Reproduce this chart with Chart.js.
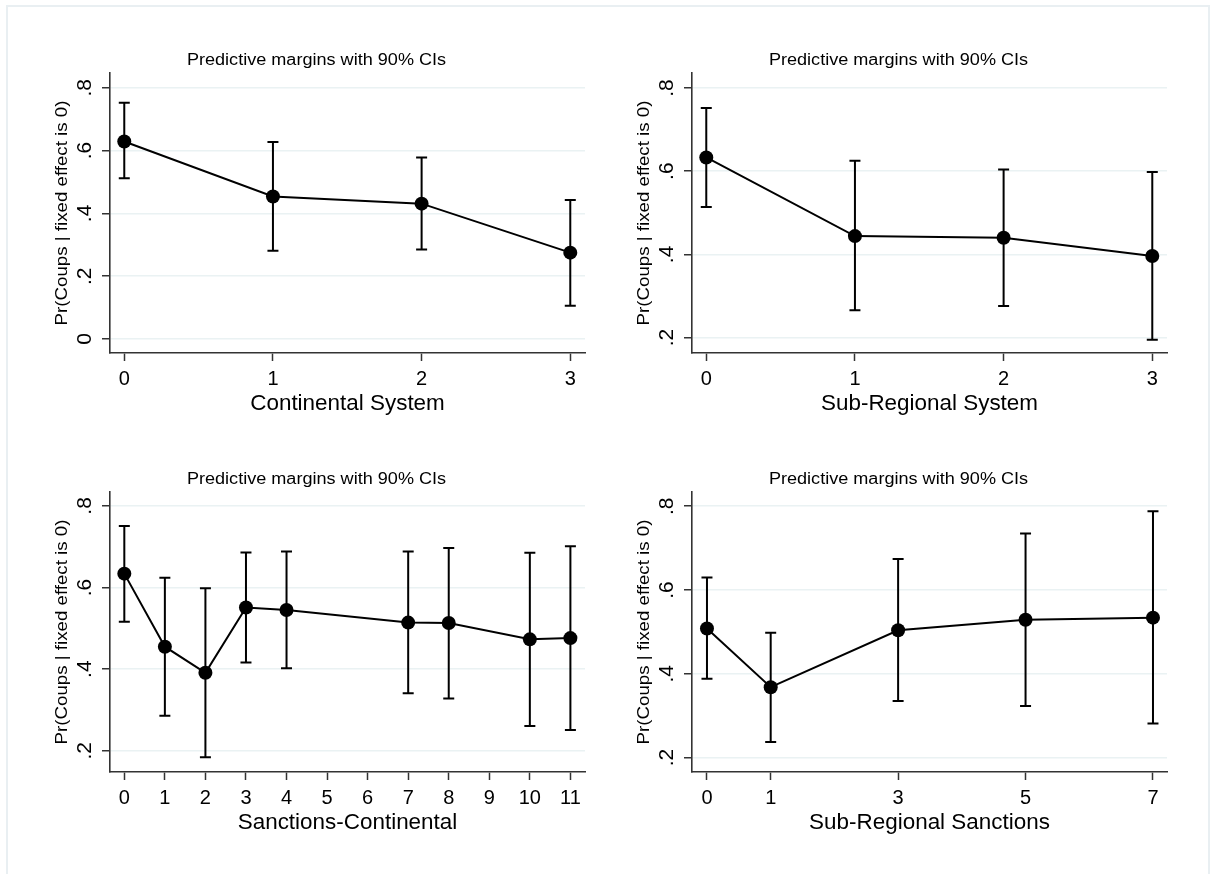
<!DOCTYPE html>
<html>
<head>
<meta charset="utf-8">
<script src="https://cdn.jsdelivr.net/npm/chart.js@4.4.1/dist/chart.umd.min.js"></script>
<style>
  html, body { margin: 0; padding: 0; background: #fff; }
  #page { position: relative; width: 1211px; height: 874px; overflow: hidden; background: #fff; }
  #frame { position: absolute; left: 6px; top: 5px; width: 1200px; height: 880px; border: 2px solid #e9eff2; }
  canvas { position: absolute; }
</style>
</head>
<body>
<div id="page">
  <div id="frame"></div>
  <canvas id="c1" width="596" height="419" style="left:0px;top:0px"></canvas>
  <canvas id="c2" width="596" height="419" style="left:582px;top:0px"></canvas>
  <canvas id="c3" width="596" height="419" style="left:0px;top:419px"></canvas>
  <canvas id="c4" width="596" height="419" style="left:582px;top:419px"></canvas>
</div>
<script>
    // Continental System
    const contX = [0, 1, 2, 3];
    const contMargin = [0.629, 0.454, 0.431, 0.275];
    const contLow = [0.512, 0.281, 0.285, 0.106];
    const contHigh = [0.752, 0.627, 0.578, 0.443];

    // Sub-Regional System
    const subX = [0, 1, 2, 3];
    const subMargin = [0.633, 0.444, 0.440, 0.396];
    const subLow = [0.514, 0.266, 0.276, 0.195];
    const subHigh = [0.752, 0.625, 0.604, 0.598];

    // Sanctions-Continental
    const sancContX = [0, 1, 2, 3, 4, 7, 8, 10, 11];
    const sancContMargin = [0.634, 0.455, 0.391, 0.551, 0.545, 0.514, 0.513, 0.473, 0.476];
    const sancContLow = [0.516, 0.286, 0.184, 0.416, 0.402, 0.341, 0.328, 0.261, 0.251];
    const sancContHigh = [0.751, 0.624, 0.598, 0.686, 0.688, 0.688, 0.697, 0.685, 0.701];

    // Sub-Regional Sanctions
    const sancSubX = [0, 1, 3, 5, 7];
    const sancSubMargin = [0.508, 0.368, 0.504, 0.529, 0.534];
    const sancSubLow = [0.388, 0.237, 0.335, 0.323, 0.281];
    const sancSubHigh = [0.630, 0.498, 0.674, 0.735, 0.788];

    // tick values
    const xTicks4 = [0, 1, 2, 3];
    const xTicksSancCont = [0, 1, 2, 3, 4, 5, 6, 7, 8, 9, 10, 11];
    const xTicksSancSub = [0, 1, 3, 5, 7];
    const yTicksFrom0 = [0, 0.2, 0.4, 0.6, 0.8];
    const yTicksFrom2 = [0.2, 0.4, 0.6, 0.8];

    const panelTitle = 'Predictive margins with 90% CIs';
    const yTitle = 'Pr(Coups | fixed effect is 0)';

    const FONT = '"Liberation Sans", Arial, sans-serif';
    const AXIS = '#333';

    function fmt(v) {
      if (Math.abs(v) < 1e-9) return '0';
      return '.' + Math.round(v * 10);
    }

    // text helper, stretch widens the text along its direction (the source export is a bit stretched)
    function txt(ctx, s, x, y, size, rot, stretch) {
      ctx.save();
      ctx.translate(x, y);
      if (rot) ctx.rotate(rot);
      if (stretch) ctx.scale(stretch, 1);
      ctx.font = size + 'px ' + FONT;
      ctx.fillStyle = '#000';
      ctx.textAlign = 'center';
      ctx.textBaseline = 'alphabetic';
      ctx.fillText(s, 0, 0);
      ctx.restore();
    }

    function makePanel(id, xs, margin, low, high, xTicks, yTicks, xMin, xMax, yMin, yMax, xTitle) {
      const errorBars = {
        id: 'errorBars',
        beforeDatasetsDraw(chart) {
          const { ctx, scales: { x, y } } = chart;
          ctx.save();
          ctx.strokeStyle = '#000';
          ctx.lineWidth = 2;
          for (let i = 0; i < xs.length; i++) {
            const px = x.getPixelForValue(xs[i]);
            const pLo = y.getPixelForValue(low[i]);
            const pHi = y.getPixelForValue(high[i]);
            ctx.beginPath();
            ctx.moveTo(px, pLo); ctx.lineTo(px, pHi);
            ctx.moveTo(px - 5.5, pLo); ctx.lineTo(px + 5.5, pLo);
            ctx.moveTo(px - 5.5, pHi); ctx.lineTo(px + 5.5, pHi);
            ctx.stroke();
          }
          ctx.restore();
        }
      };

      const panelText = {
        id: 'panelText',
        afterDraw(chart) {
          const { ctx, chartArea: a, scales: { y } } = chart;
          txt(ctx, panelTitle, 316.5, 65, 16, 0, 1.13);
          txt(ctx, yTitle, 67, (a.top + a.bottom) / 2, 17, -Math.PI / 2, 1.1);
          y.ticks.forEach(t => txt(ctx, fmt(t.value), 91, y.getPixelForValue(t.value), 21, -Math.PI / 2));
          txt(ctx, xTitle, (a.left + a.right) / 2, 410, 22, 0, 1.02);
        }
      };

      return new Chart(document.getElementById(id), {
        type: 'line',
        data: {
          datasets: [{
            data: xs.map((v, i) => ({ x: v, y: margin[i] })),
            borderColor: '#000',
            borderWidth: 2,
            pointRadius: 7,
            pointBackgroundColor: '#000',
            pointBorderColor: '#000',
            pointBorderWidth: 0,
            tension: 0,
            fill: false
          }]
        },
        options: {
          responsive: false,
          animation: false,
          devicePixelRatio: 1,
          layout: { padding: { left: 90, top: 73, right: 11, bottom: 6 } },
          plugins: { legend: { display: false }, tooltip: { enabled: false } },
          scales: {
            x: {
              type: 'linear',
              min: xMin,
              max: xMax,
              afterBuildTicks: s => { s.ticks = xTicks.map(v => ({ value: v })); },
              afterFit: s => { s.height = 60; s.paddingLeft = 0; s.paddingRight = 0; },
              grid: { drawOnChartArea: false, drawTicks: true, tickLength: 8, tickWidth: 1.5, tickColor: AXIS },
              border: { display: true, color: AXIS, width: 1.6 },
              ticks: { autoSkip: false, maxRotation: 0, color: '#000', padding: 6, font: { family: FONT, size: 20 } }
            },
            y: {
              min: yMin,
              max: yMax,
              afterBuildTicks: s => { s.ticks = yTicks.map(v => ({ value: v })); },
              afterFit: s => { s.width = 20; },
              grid: { color: '#eaf2f3', lineWidth: 1.5, drawTicks: true, tickLength: 8, tickWidth: 1.5, tickColor: AXIS },
              border: { display: true, color: AXIS, width: 1.6 },
              ticks: { display: false }
            }
          }
        },
        plugins: [errorBars, panelText]
      });
    }

    makePanel('c1', contX, contMargin, contLow, contHigh, xTicks4, yTicksFrom0, -0.096, 3.099, -0.0445, 0.847, 'Continental System');
    makePanel('c2', subX, subMargin, subLow, subHigh, xTicks4, yTicksFrom2, -0.096, 3.099, 0.163, 0.836, 'Sub-Regional System');
    makePanel('c3', sancContX, sancContMargin, sancContLow, sancContHigh, xTicksSancCont, yTicksFrom2, -0.353, 11.36, 0.148, 0.834, 'Sanctions-Continental');
    makePanel('c4', sancSubX, sancSubMargin, sancSubLow, sancSubHigh, xTicksSancSub, yTicksFrom2, -0.235, 7.22, 0.1655, 0.834, 'Sub-Regional Sanctions');
</script>
</body>
</html>
